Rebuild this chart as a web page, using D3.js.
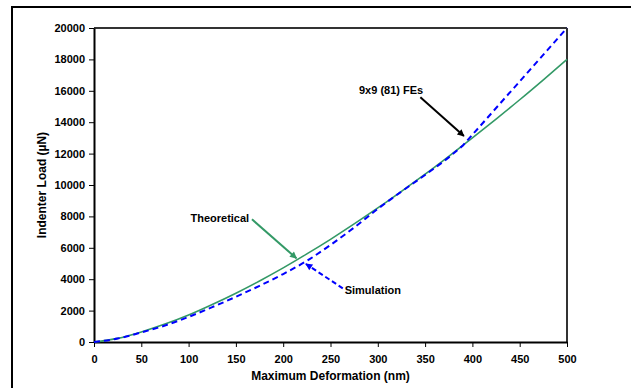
<!DOCTYPE html>
<html>
<head>
<meta charset="utf-8">
<script src="https://cdn.jsdelivr.net/npm/d3@7"></script>
<style>
  body { margin: 0; background: #fff; }
  text { font-family: Arial, "Liberation Sans", sans-serif; font-weight: bold; fill: #000; }
</style>
</head>
<body>
<div id="chart"></div>
<script>
// values
const deformation = [0, 25, 50, 75, 100, 125, 150, 175, 200, 225, 250, 275, 300, 325, 350, 375, 400, 425, 450, 475, 500];
const theoretical = [0, 230, 640, 1140, 1720, 2390, 3110, 3890, 4720, 5610, 6540, 7520, 8540, 9600, 10690, 11830, 13000, 14200, 15430, 16700, 18000];

// simulation: smooth part up to the kink, then a straight run to 500
const simDeformation = [0, 25, 50, 75, 100, 125, 150, 175, 200, 225, 250, 275, 300, 325, 350, 375, 390];
const simulation = [0, 220, 610, 1050, 1600, 2220, 2880, 3580, 4330, 5170, 6180, 7290, 8480, 9580, 10640, 11760, 12520];
const simTailDeformation = [390, 500];
const simTail = [12520, 20000];

const xTicks = [0, 50, 100, 150, 200, 250, 300, 350, 400, 450, 500];
const yTicks = [0, 2000, 4000, 6000, 8000, 10000, 12000, 14000, 16000, 18000, 20000];

// annotations in data units: label, text anchor point, arrow start, arrow tip
const notes = [
    {label: "9x9 (81) FEs", tx: 348, ty: 16019, anchor: "end", x1: 345, y1: 15590, x2: 391, y2: 13120, color: "#000", dash: null},
    {label: "Theoretical", tx: 164, ty: 7898, anchor: "end", x1: 167, y1: 7815, x2: 214, y2: 5330, color: "#339966", dash: null},
    {label: "Simulation", tx: 265, ty: 3331, anchor: "start", x1: 263, y1: 3420, x2: 224, y2: 4970, color: "#0000ff", dash: "5,3"}
];

const W = 631, H = 388;
const margin = {top: 28, right: 64, bottom: 46, left: 94};
const width = W - margin.left - margin.right;
const height = H - margin.top - margin.bottom;

const svg = d3.select("#chart").append("svg")
    .attr("width", W)
    .attr("height", H);

// outer frame, runs off the right and bottom edges
svg.append("rect")
    .attr("x", 12).attr("y", 7)
    .attr("width", 660).attr("height", 420)
    .attr("fill", "none").attr("stroke", "#000").attr("stroke-width", 2);

const g = svg.append("g")
    .attr("transform", `translate(${margin.left},${margin.top})`);

const x = d3.scaleLinear().domain([0, 500]).range([0, width]);
const y = d3.scaleLinear().domain([0, 20000]).range([height, 0]);

// plot box top and right
g.append("line").attr("x1", 0).attr("x2", width).attr("y1", 0).attr("y2", 0)
    .attr("stroke", "#333").attr("stroke-width", 2);
g.append("line").attr("x1", width).attr("x2", width).attr("y1", 0).attr("y2", height)
    .attr("stroke", "#333").attr("stroke-width", 2);

let xAxis = g.append("g")
    .attr("transform", `translate(0,${height})`)
    .call(d3.axisBottom(x).tickValues(xTicks).tickSize(5).tickSizeOuter(0).tickPadding(8));
let yAxis = g.append("g")
    .call(d3.axisLeft(y).tickValues(yTicks).tickSize(5).tickSizeOuter(0).tickPadding(4).tickFormat(d3.format("d")));

[xAxis, yAxis].forEach((a) => {
    a.select(".domain").attr("stroke", "#000").attr("stroke-width", 2);
    a.selectAll(".tick line").attr("stroke", "#000").attr("stroke-width", 1);
    a.selectAll(".tick text").style("font-size", "11px").style("font-family", "Arial, 'Liberation Sans', sans-serif").style("font-weight", "bold");
});

// axis titles
g.append("text")
    .attr("x", width / 2).attr("y", height + 38)
    .attr("text-anchor", "middle")
    .style("font-size", "12px")
    .text("Maximum Deformation (nm)");

g.append("text")
    .attr("transform", `translate(${-52},${height / 2}) rotate(-90)`)
    .attr("text-anchor", "middle")
    .attr("dy", "0.35em")
    .style("font-size", "12px")
    .text("Indenter Load (\u00b5N)");

// lines
let smooth = d3.line()
    .x((d) => x(d[0]))
    .y((d) => y(d[1]))
    .curve(d3.curveMonotoneX);

let straight = d3.line()
    .x((d) => x(d[0]))
    .y((d) => y(d[1]));

g.append("path")
    .datum(deformation.map((d, i) => [d, theoretical[i]]))
    .attr("fill", "none")
    .attr("stroke", "#339966")
    .attr("stroke-width", 1.6)
    .attr("d", smooth);

// simulation drawn as one path: smooth part, then straight tail from the kink
let simPath = smooth(simDeformation.map((d, i) => [d, simulation[i]]))
    + straight(simTailDeformation.map((d, i) => [d, simTail[i]])).replace(/^M[^L]*/, "");

g.append("path")
    .attr("fill", "none")
    .attr("stroke", "#0000ff")
    .attr("stroke-width", 2)
    .attr("stroke-dasharray", "6,4")
    .attr("d", simPath);

// arrow markers
let defs = svg.append("defs");
notes.forEach((n, i) => {
    defs.append("marker")
        .attr("id", "arrow" + i)
        .attr("viewBox", "0 0 10 10")
        .attr("refX", 9).attr("refY", 5)
        .attr("markerWidth", 9).attr("markerHeight", 7)
        .attr("markerUnits", "userSpaceOnUse")
        .attr("orient", "auto")
        .append("path")
        .attr("d", "M0,0 L10,5 L0,10 z")
        .attr("fill", n.color);
});

notes.forEach((n, i) => {
    g.append("line")
        .attr("x1", x(n.x1)).attr("y1", y(n.y1))
        .attr("x2", x(n.x2)).attr("y2", y(n.y2))
        .attr("stroke", n.color)
        .attr("stroke-width", 2)
        .attr("stroke-dasharray", n.dash)
        .attr("marker-end", `url(#arrow${i})`);
    g.append("text")
        .attr("x", x(n.tx)).attr("y", y(n.ty))
        .attr("dy", "0.35em")
        .attr("text-anchor", n.anchor)
        .style("font-size", "11px")
        .text(n.label);
});
</script>
</body>
</html>
